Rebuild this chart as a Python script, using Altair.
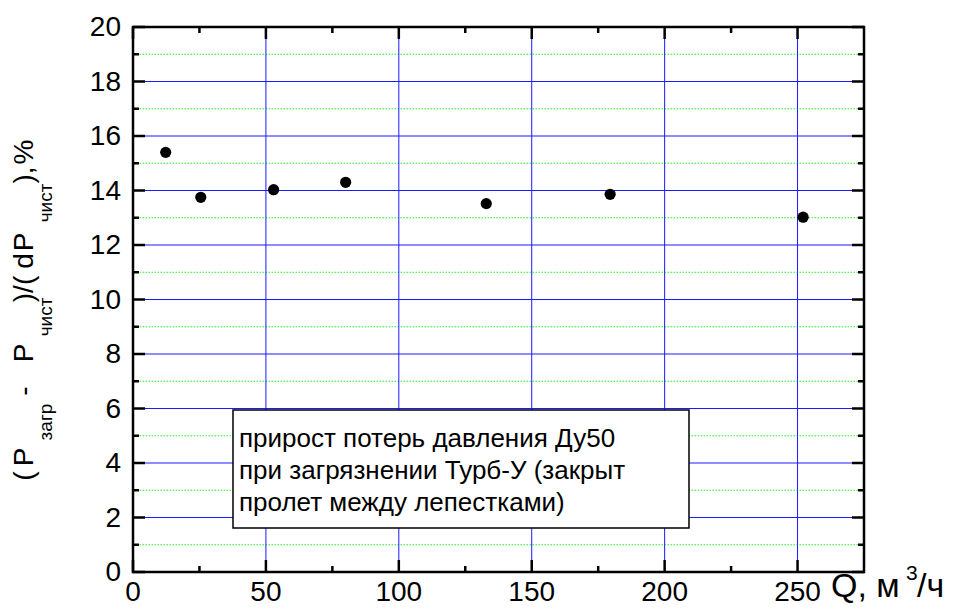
import altair as alt
import pandas as pd

# ---- data ----
q_values = [12.3, 25.5, 52.9, 80.0, 132.9, 179.5, 252.1]
dp_values = [15.40, 13.75, 14.03, 14.30, 13.52, 13.86, 13.02]

x_major_ticks = [0, 50, 100, 150, 200, 250]
x_minor_ticks = [25, 75, 125, 175, 225]
y_major_ticks = [0, 2, 4, 6, 8, 10, 12, 14, 16, 18, 20]
y_minor_ticks = [1, 3, 5, 7, 9, 11, 13, 15, 17, 19]
x_grid_values = [50, 100, 150, 200, 250]
y_grid_values = [2, 4, 6, 8, 10, 12, 14, 16, 18]
x_domain = [0, 275]
y_domain = [0, 20]

legend_lines = [
    "прирост потерь давления Ду50",
    "при загрязнении Турб-У (закрыт",
    "пролет между лепестками)",
]

W, H = 731, 545
FONT = "Liberation Sans"

xs = alt.Scale(domain=x_domain, nice=False, zero=False)
ys = alt.Scale(domain=y_domain, nice=False, zero=False)

dummy = pd.DataFrame({"d": [0]})
pts_df = pd.DataFrame({"q": q_values, "dp": dp_values})


def txt(text, x, y, size, angle=0, align="left", baseline="alphabetic"):
    return alt.Chart(dummy).mark_text(
        text=text, font=FONT, fontSize=size, angle=angle, align=align,
        baseline=baseline, color="black"
    ).encode(x=alt.value(x), y=alt.value(y))


# blue major grid
x_grid = alt.Chart(pd.DataFrame({"q": x_grid_values})).mark_rule(
    color="#1a1aff", strokeWidth=1
).encode(x=alt.X("q:Q", scale=xs, axis=None))
y_grid = alt.Chart(pd.DataFrame({"dp": y_grid_values})).mark_rule(
    color="#1a1aff", strokeWidth=1
).encode(y=alt.Y("dp:Q", scale=ys, axis=None))

# minor dotted green grid
minor_grid = alt.Chart(pd.DataFrame({"dp": y_minor_ticks})).mark_rule(
    color="#22ee22", strokeWidth=1, strokeDash=[1.5, 1.5]
).encode(y=alt.Y("dp:Q", scale=ys, axis=None))


def yticks(vals, x0, x1):
    return alt.Chart(pd.DataFrame({"dp": vals})).mark_rule(
        color="black", strokeWidth=2.5
    ).encode(y=alt.Y("dp:Q", scale=ys, axis=None), x=alt.value(x0), x2=alt.value(x1))


def xticks(vals, y0, y1):
    return alt.Chart(pd.DataFrame({"q": vals})).mark_rule(
        color="black", strokeWidth=2.5
    ).encode(x=alt.X("q:Q", scale=xs, axis=None), y=alt.value(y0), y2=alt.value(y1))


ticks = [
    yticks(y_major_ticks, 0, 12), yticks(y_minor_ticks, 0, 6),
    yticks(y_major_ticks, W - 12, W), yticks(y_minor_ticks, W - 6, W),
    xticks(x_major_ticks, H - 12, H), xticks(x_minor_ticks, H - 6, H),
    xticks(x_major_ticks, 0, 12), xticks(x_minor_ticks, 0, 6),
]

# tick labels through the scales
x_labels = alt.Chart(pd.DataFrame({"q": x_major_ticks})).mark_text(
    font=FONT, fontSize=28, color="black", align="center", baseline="alphabetic"
).encode(
    x=alt.X("q:Q", scale=xs, axis=None), y=alt.value(H + 29),
    text=alt.Text("q:Q", format="d"),
)
y_labels = alt.Chart(pd.DataFrame({"dp": y_major_ticks})).mark_text(
    font=FONT, fontSize=28, color="black", align="right", baseline="middle", dy=1
).encode(
    y=alt.Y("dp:Q", scale=ys, axis=None), x=alt.value(-12),
    text=alt.Text("dp:Q", format="d"),
)

points = alt.Chart(pts_df).mark_circle(size=125, color="black", opacity=1).encode(
    x=alt.X("q:Q", scale=xs, axis=None),
    y=alt.Y("dp:Q", scale=ys, axis=None),
)

# legend box
box = alt.Chart(dummy).mark_rect(
    fill="white", stroke="black", strokeWidth=1.5
).encode(x=alt.value(100), x2=alt.value(556), y=alt.value(383), y2=alt.value(501))

legend_text = [
    txt(legend_lines[0], 106, 420, 26),
    txt(legend_lines[1], 106, 452, 26),
    txt(legend_lines[2], 106, 484, 26),
]

# y title pieces (rotated, with subscripts), centred on reference positions
MX, SX = -100, -81
MF, SF = 28, 19
ytitle = [
    txt("(", MX, 449, MF, angle=270, align="center"),
    txt("P", MX, 430, MF, angle=270, align="center"),
    txt("загр", SX, 395, SF, angle=270, align="center"),
    txt("-", MX, 364, MF, angle=270, align="center"),
    txt("P", MX, 326, MF, angle=270, align="center"),
    txt("чист", SX, 290, SF, angle=270, align="center"),
    txt(")/(", MX, 262, MF, angle=270, align="center"),
    txt("d", MX, 234, MF, angle=270, align="center"),
    txt("P", MX, 215, MF, angle=270, align="center"),
    txt("чист", SX, 176, SF, angle=270, align="center"),
    txt("),", MX, 148, MF, angle=270, align="center"),
    txt("%", MX, 125, MF, angle=270, align="center"),
]

# x title pieces
xtitle = [
    txt("Q, м", 698, 570, 34),
    txt("3", 773, 553, 21),
    txt("/ч", 784, 570, 34),
]

chart = alt.layer(
    minor_grid, x_grid, y_grid, *ticks, box, *legend_text, points,
    x_labels, y_labels, *ytitle, *xtitle
).properties(
    width=W, height=H,
    autosize=alt.AutoSizeParams(type="none"),
    padding={"left": 125, "top": 19, "right": 96, "bottom": 34},
).configure_view(stroke="black", strokeWidth=2.5)

chart.save("out.html", embed_options={"renderer": "svg", "actions": False})
